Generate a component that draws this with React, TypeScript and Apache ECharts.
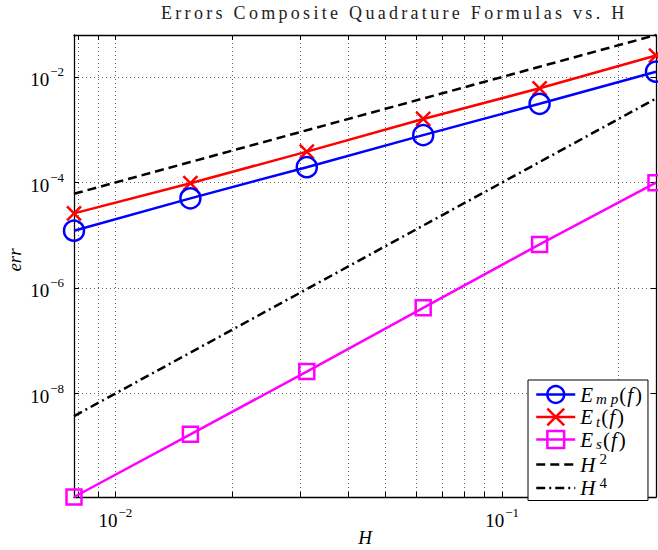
import React, { useEffect, useRef } from 'react';
import * as echarts from 'echarts';

// ---- data ----
const H = [0.0078125, 0.015625, 0.03125, 0.0625, 0.125, 0.25];
const E_MP = [1.22e-5, 5.0e-5, 1.95e-4, 7.9e-4, 3.1e-3, 1.26e-2];
const E_T = [2.6e-5, 9.7e-5, 3.85e-4, 1.6e-3, 6.1e-3, 2.55e-2];
const E_S = [1.09e-10, 1.68e-9, 2.6e-8, 4.2e-7, 6.7e-6, 9.9e-5];
const H_SQ = [6.1035e-5, 2.4414e-4, 9.7656e-4, 3.90625e-3, 1.5625e-2, 6.25e-2];
const H_4 = [3.7253e-9, 5.9605e-8, 9.5367e-7, 1.5259e-5, 2.4414e-4, 3.90625e-3];
const SERIES_NAMES = ['E_mp(f)', 'E_t(f)', 'E_s(f)', 'H^2', 'H^4'];
const X_MAJOR = [0.01, 0.1];
const X_MINOR = [0.008, 0.009, 0.02, 0.03, 0.04, 0.05, 0.06, 0.07, 0.08, 0.09, 0.2];
const Y_MAJOR = [1e-8, 1e-6, 1e-4, 1e-2];
const TITLE = 'Errors Composite Quadrature Formulas vs. H';
const X_NAME = 'H';
const Y_NAME = 'err';

const FONT = '"Liberation Serif", "Times New Roman", serif';
const X_ALL = [...X_MINOR, ...X_MAJOR].sort((a, b) => a - b);

const pairs = (ys: number[]) => H.map((h, i) => [h, ys[i]]);

const tickLabel = (v: number) => {
  const e = Math.round(Math.log10(v));
  return `{b|10}{s|${e < 0 ? '\u2212' : ''}${Math.abs(e)}}`;
};

const labelRich = {
  b: { fontFamily: FONT, fontSize: 19, color: '#000', padding: [6, 0, 0, 0] },
  s: { fontFamily: FONT, fontSize: 13, color: '#000', padding: [0, 0, 10, 1] },
};

const legendText: Record<string, string> = {
  'E_mp(f)': '{it|E}{sub|m p}{rm|(}{it|f}{rm|)}',
  'E_t(f)': '{it|E}{sub|t}{rm|(}{it|f}{rm|)}',
  'E_s(f)': '{it|E}{sub|s}{rm|(}{it|f}{rm|)}',
  'H^2': '{it|H}{sup|2}',
  'H^4': '{it|H}{sup|4}',
};

const BLUE = '#0000ff';
const RED = '#ff0000';
const MAGENTA = '#ff00ff';
const BLACK = '#000000';
const CROSS = 'path://M0,0L10,10M10,0L0,10';
const DASH = [9, 5];
const DASHDOT = [9, 4, 2, 4];

export default function App() {
  const ref = useRef<HTMLDivElement>(null);
  useEffect(() => {
    const el = ref.current!;
    const chart = echarts.init(el, null, { renderer: 'svg' });
    const xMin = Math.min(...H);
    const xMax = Math.max(...H);
    const yMin = Math.min(...E_S);
    const yMax = Math.max(...H_SQ);
    const axisLine = { show: true, onZero: false, lineStyle: { color: BLACK, width: 1.3 } };

    const mkLine = (name: string, ys: number[], color: string, symbol: string, size: number, dash?: number[]) => ({
      name,
      type: 'line',
      data: pairs(ys),
      xAxisIndex: 0,
      yAxisIndex: 0,
      clip: false,
      symbol,
      symbolSize: size,
      showSymbol: symbol !== 'none',
      lineStyle: { color, width: 2.5, type: dash || 'solid' },
      itemStyle: { color: 'rgba(0,0,0,0)', borderColor: color, borderWidth: 2.5 },
      emphasis: { disabled: true },
      silent: true,
    });

    const legendItem = (name: string, color: string, marker: boolean, dash?: number[]) => ({
      name,
      itemStyle: marker
        ? { color: 'rgba(0,0,0,0)', borderColor: color, borderWidth: 2.5 }
        : { color: 'rgba(0,0,0,0)', borderColor: 'rgba(0,0,0,0)', borderWidth: 0 },
      lineStyle: { color, width: 2.5, type: dash || 'solid' },
    });

    chart.setOption({
      animation: false,
      backgroundColor: '#fff',
      title: {
        text: TITLE,
        left: 161,
        top: 4,
        padding: 0,
        textStyle: { fontFamily: FONT, fontSize: 18, fontWeight: 'normal', color: '#222' },
      },
      grid: { left: 74, right: 2, top: 35, bottom: 53, containLabel: false, outerBoundsMode: 'none' },
      legend: {
        orient: 'vertical',
        left: 528,
        top: 380,
        itemWidth: 39,
        itemHeight: 21,
        itemGap: 0,
        padding: [4, 6, 2, 7],
        borderColor: BLACK,
        borderWidth: 1,
        backgroundColor: '#fff',
        selectedMode: false,
        data: [
          legendItem(SERIES_NAMES[0], BLUE, true),
          legendItem(SERIES_NAMES[1], RED, true),
          legendItem(SERIES_NAMES[2], MAGENTA, true),
          legendItem(SERIES_NAMES[3], BLACK, false, DASH),
          legendItem(SERIES_NAMES[4], BLACK, false, DASHDOT),
        ],
        formatter: (n: string) => legendText[n] || n,
        textStyle: {
          fontFamily: FONT,
          fontSize: 20,
          color: '#000',
          rich: {
            it: { fontFamily: FONT, fontSize: 21, fontStyle: 'italic', color: '#000', padding: [0, 1, 0, 0] },
            rm: { fontFamily: FONT, fontSize: 21, color: '#000', padding: [0, 1, 0, 1] },
            sub: { fontFamily: FONT, fontSize: 15, fontStyle: 'italic', color: '#000', padding: [9, 0, 0, 2] },
            sup: { fontFamily: FONT, fontSize: 15, color: '#000', padding: [0, 0, 11, 3] },
          },
        },
      },
      xAxis: [
        {
          type: 'log',
          position: 'bottom',
          min: xMin,
          max: xMax,
          name: X_NAME,
          nameLocation: 'middle',
          nameGap: 31,
          nameMoveOverlap: false,
          nameTextStyle: { fontFamily: FONT, fontSize: 19, fontStyle: 'italic', color: '#000' },
          axisLine,
          axisTick: { show: true, inside: true, length: 5, customValues: X_ALL, lineStyle: { color: BLACK, width: 1 } },
          axisLabel: {
            show: true,
            customValues: X_MAJOR,
            margin: 8,
            formatter: tickLabel,
            rich: labelRich,
          },
          splitLine: { show: true, lineStyle: { color: '#666', width: 1, type: [1, 3] } },
          minorTick: { show: false },
        },
        {
          type: 'log',
          position: 'top',
          min: xMin,
          max: xMax,
          axisLine,
          axisTick: { show: true, inside: true, length: 5, customValues: X_ALL, lineStyle: { color: BLACK, width: 1 } },
          axisLabel: { show: false },
          splitLine: { show: false },
        },
      ],
      yAxis: [
        {
          type: 'log',
          position: 'left',
          min: yMin,
          max: yMax,
          name: Y_NAME,
          nameLocation: 'middle',
          nameGap: 50,
          nameMoveOverlap: false,
          nameTextStyle: { fontFamily: FONT, fontSize: 19, fontStyle: 'italic', color: '#000', padding: [0, 0, 0, 12] },
          axisLine,
          axisTick: { show: true, inside: true, length: 5, customValues: Y_MAJOR, lineStyle: { color: BLACK, width: 1 } },
          axisLabel: {
            show: true,
            customValues: Y_MAJOR,
            margin: 10,
            formatter: tickLabel,
            rich: labelRich,
          },
          splitLine: { show: true, lineStyle: { color: '#666', width: 1, type: [1, 3] } },
        },
        {
          type: 'log',
          position: 'right',
          min: yMin,
          max: yMax,
          axisLine,
          axisTick: { show: true, inside: true, length: 5, customValues: Y_MAJOR, lineStyle: { color: BLACK, width: 1 } },
          axisLabel: { show: false },
          splitLine: { show: false },
        },
      ],
      series: [
        mkLine(SERIES_NAMES[3], H_SQ, BLACK, 'none', 0, DASH),
        mkLine(SERIES_NAMES[4], H_4, BLACK, 'none', 0, DASHDOT),
        mkLine(SERIES_NAMES[2], E_S, MAGENTA, 'rect', 15),
        mkLine(SERIES_NAMES[1], E_T, RED, CROSS, 14),
        mkLine(SERIES_NAMES[0], E_MP, BLUE, 'circle', 20),
      ],
    });

    el.querySelectorAll('text').forEach((t) => {
      if (t.textContent === TITLE) t.setAttribute('letter-spacing', '3.3');
    });

    return () => chart.dispose();
  }, []);
  return <div ref={ref} style={{ position: 'fixed', left: 0, top: 0, width: 658, height: 550 }} />;
}
